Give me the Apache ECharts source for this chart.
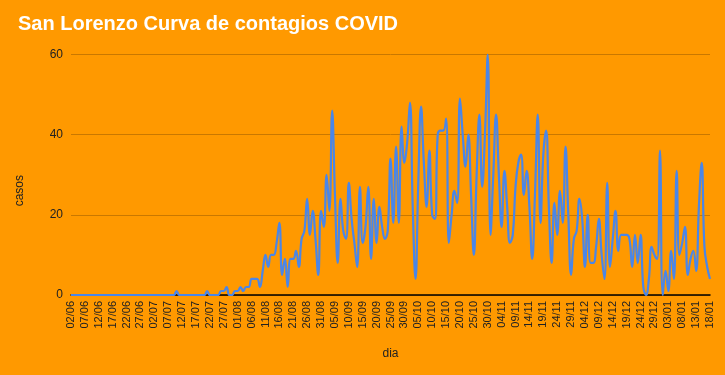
<!DOCTYPE html>
<html><head><meta charset="utf-8">
<script src="https://cdn.jsdelivr.net/npm/echarts@6/dist/echarts.min.js"></script>
<style>html,body{margin:0;padding:0;background:#FF9900}#c{width:725px;height:375px}</style>
</head><body><div id="c"></div>
<script>
// Categories: daily dates from 02/06 to 18/01
const startDate = [2020, 5, 2]; // year, month index, day
const dayCount = 231;
const categories = [];
for (let i = 0; i < dayCount; i++) {
  const d = new Date(Date.UTC(startDate[0], startDate[1], startDate[2] + i));
  categories.push(String(d.getUTCDate()).padStart(2,'0') + '/' + String(d.getUTCMonth()+1).padStart(2,'0'));
}
// Daily cases
const casosJunio = [0,0,0,0,0,0,0,0,0,0,0,0,0,0,0,0,0,0,0,0,0,0,0,0,0,0,0,0,0];
const casosJulio = [0,0,0,0,0,0,0,0,0,1,0,0,0,0,0,0,0,0,0,0,1,0,0,0,0,1,1,2,0,0,1];
const casosAgosto = [1,2,1,2,2,4,4,4,2,6,10,7,10,10,13,18,5,9,2,9,9,11,7,14,16,24,15,21,14,5,21];
const casosSeptiembre = [17,30,21,46,25,8,24,16,14,28,19,13,7,27,13,17,27,9,24,13,22,17,14,16,34,18,37,18,42,33];
const casosOctubre = [38,48,22,4,28,47,33,22,36,20,19,40,41,41,44,13,20,26,23,49,40,32,40,25,10,30,45,27,40,60,15];
const casosNoviembre = [30,45,30,17,31,22,13,15,27,33,35,25,31,22,9,25,45,18,35,41,22,8,23,15,26,18,37,20,5,14];
const casosDiciembre = [16,24,19,7,20,8,8,12,19,10,4,28,7,14,21,11,15,15,15,14,7,15,8,15,2,0,4,12,10,9,36];
const casosEnero = [0,6,1,11,4,31,10,13,17,5,9,11,6,22,33,12,7,4];
const casos = [].concat(casosJunio, casosJulio, casosAgosto, casosSeptiembre, casosOctubre, casosNoviembre, casosDiciembre, casosEnero);
const yTicks = [0, 20, 40, 60];

const chart = echarts.init(document.getElementById('c'), null, {renderer: 'canvas'});
chart.setOption({
  backgroundColor: '#FF9900',
  animation: false,
  title: {
    text: 'San Lorenzo Curva de contagios COVID',
    left: 13, top: 9,
    textStyle: {color: '#ffffff', fontFamily: 'Liberation Sans, Arial', fontWeight: 'bold', fontSize: 20}
  },
  grid: {left: 71, right: 15, top: 54.5, bottom: 80},
  xAxis: {
    type: 'category',
    data: categories,
    boundaryGap: false,
    name: 'dia',
    nameLocation: 'middle',
    nameGap: 53,
    nameTextStyle: {color: '#222', fontFamily: 'Liberation Sans, Arial', fontSize: 12},
    axisLine: {lineStyle: {color: '#000', width: 1.5}},
    axisTick: {show: false},
    axisLabel: {interval: 4, rotate: 90, margin: 6, color: '#222', fontFamily: 'Liberation Sans, Arial', fontSize: 11},
    splitLine: {show: false}
  },
  yAxis: {
    type: 'value',
    min: yTicks[0], max: yTicks[yTicks.length-1], interval: 20,
    axisLine: {show: false},
    axisTick: {show: false},
    axisLabel: {margin: 8, color: '#222', fontFamily: 'Liberation Sans, Arial', fontSize: 12},
    splitLine: {lineStyle: {color: '#C97800', width: 1}}
  },
  graphic: [{
    type: 'text', left: 14, top: 175,
    rotation: Math.PI/2,
    style: {text: 'casos', fill: '#222', font: '12px "Liberation Sans", Arial'}
  }],
  series: [{
    type: 'line',
    data: casos,
    smooth: 0.45,
    showSymbol: false,
    lineStyle: {color: '#4A86E8', width: 2.2},
    itemStyle: {color: '#4A86E8'}
  }]
});
</script>
</body></html>
